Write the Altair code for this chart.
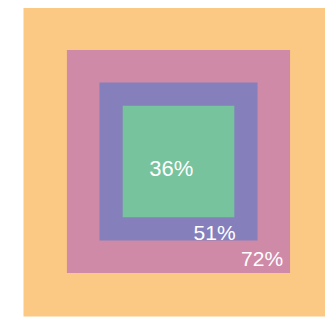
import altair as alt
import pandas as pd

names = ["Total", "72%", "51%", "36%"]
values = [100, 72, 51, 36]
colors = ["#FBC983", "#CF8AA8", "#8580BC", "#77C39D"]

df = pd.DataFrame({"name": names, "value": values, "color": colors})
df["lo"] = -df["value"] / 2
df["hi"] = df["value"] / 2

xs = alt.Scale(domain=[-50, 50], range=[15.5, 325.5], nice=False, zero=False)
ys = alt.Scale(domain=[-50, 50], range=[308.5, -1.5], nice=False, zero=False)

base = alt.Chart(df)

rects = base.mark_rect().encode(
    x=alt.X("lo:Q", scale=xs, axis=None),
    x2="hi:Q",
    y=alt.Y("lo:Q", scale=ys, axis=None),
    y2="hi:Q",
    color=alt.Color("color:N", scale=None),
)


def label(name, dx, dy, size):
    return base.transform_filter(alt.datum.name == name).mark_text(
        align="right", baseline="alphabetic", dx=dx, dy=dy,
        font="Liberation Sans", fontSize=size, color="white"
    ).encode(
        x=alt.X("hi:Q", scale=xs, axis=None),
        y=alt.Y("lo:Q", scale=ys, axis=None),
        text="name:N",
    )


chart = alt.layer(
    rects,
    label("72%", -7, -7, 21),
    label("51%", -22, -1, 21),
    label("36%", -41, -41, 22),
).properties(
    width=317, height=311, autosize=alt.AutoSizeParams(type="none"), padding=0
).configure_view(stroke=None)

chart.save("out.html", embed_options={"renderer": "svg", "actions": False})
